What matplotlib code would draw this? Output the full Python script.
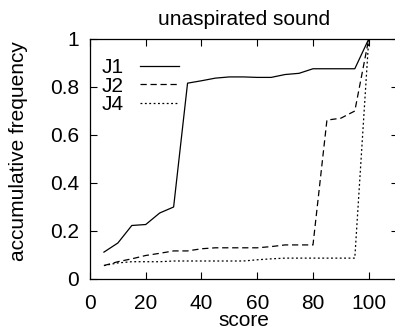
import matplotlib
matplotlib.use("Agg")
import matplotlib.pyplot as plt

plt.rcParams['font.family'] = ['Liberation Sans', 'DejaVu Sans']

# scores and cumulative frequencies
score = [5, 10, 15, 20, 25, 30, 35, 40, 45, 50, 55, 60, 65, 70, 75, 80, 85, 90, 95, 100]
j1 = [0.112, 0.150, 0.223, 0.227, 0.275, 0.300, 0.816, 0.826, 0.837, 0.842,
      0.842, 0.840, 0.840, 0.852, 0.857, 0.876, 0.876, 0.876, 0.876, 1.0]
j2 = [0.056, 0.072, 0.084, 0.098, 0.107, 0.117, 0.117, 0.126, 0.130, 0.130,
      0.130, 0.130, 0.135, 0.142, 0.142, 0.142, 0.662, 0.670, 0.700, 1.0]
j4 = [0.056, 0.067, 0.072, 0.072, 0.072, 0.075, 0.075, 0.075, 0.075, 0.075,
      0.075, 0.080, 0.084, 0.087, 0.087, 0.087, 0.087, 0.087, 0.087, 1.0]
yticks = [0, 0.2, 0.4, 0.6, 0.8, 1]
ytick_labels = ['0', '0.2', '0.4', '0.6', '0.8', '1']
xticks = [0, 20, 40, 60, 80, 100]

fig = plt.figure(figsize=(3.95, 3.33), dpi=100)
# right side of the frame is cut off in the scan
ax = fig.add_axes([90/395, 54/333, 308/395, 240/333])

ax.plot(score, j1, color='black', lw=0.9, ls='-', label='J1')
ax.plot(score, j2, color='black', lw=0.9, ls=(0, (5, 3)), label='J2')
ax.plot(score, j4, color='black', lw=0.9, ls=(0, (1.5, 2)), label='J4')

ax.set_xlim(0, 110.5)
ax.set_ylim(0, 1)
ax.set_xticks(xticks)
ax.set_yticks(yticks)
ax.set_yticklabels(ytick_labels)
ax.tick_params(direction='in', length=5, width=0.8, top=True, right=True,
               labelsize=15)
ax.tick_params(axis='y', pad=8)
ax.tick_params(axis='x', pad=10.5)
for s in ax.spines.values():
    s.set_linewidth(0.9)
ax.spines['right'].set_visible(False)

ax.set_title('unaspirated sound', fontsize=15, pad=10)
ax.set_xlabel('score', fontsize=15, labelpad=-1)
ax.set_ylabel('accumulative frequency', fontsize=15)
ax.yaxis.set_label_coords(-0.201, 0.533)

ax.legend(loc='upper left', frameon=False, markerfirst=False, fontsize=15,
          handlelength=1.87, handletextpad=0.8, labelspacing=-0.02,
          borderaxespad=0.0, bbox_to_anchor=(0.01, 0.955))

fig.savefig('out.png', dpi=100)
